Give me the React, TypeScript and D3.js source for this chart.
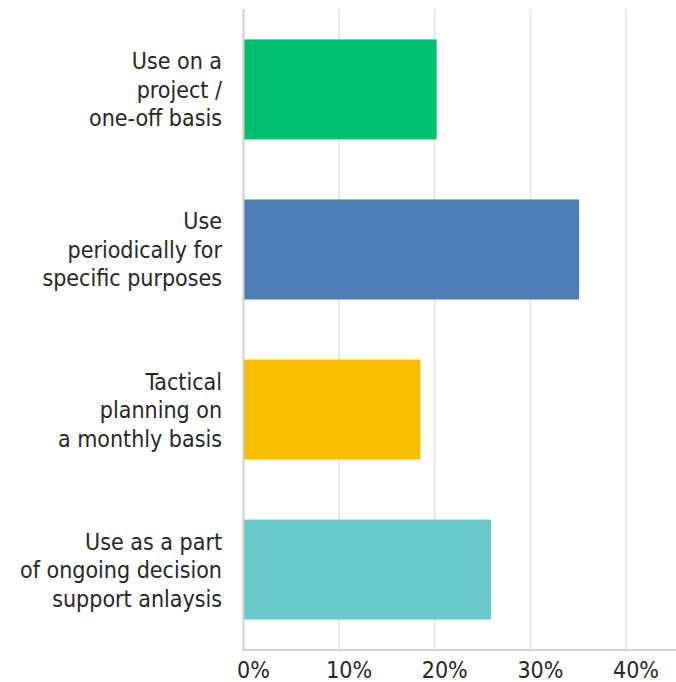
import React from "react";
import * as d3 from "d3";

const categories: string[][] = [
  ["Use on a", "project /", "one-off basis"],
  ["Use", "periodically for", "specific purposes"],
  ["Tactical", "planning on", "a monthly basis"],
  ["Use as a part", "of ongoing decision", "support anlaysis"],
];
const values: number[] = [20.2, 35.1, 18.5, 25.9];
const colors: string[] = ["#00BF6F", "#507CB6", "#F9BE00", "#6BC8CD"];
const ticks: number[] = [0, 10, 20, 30, 40];

const W = 676;
const H = 682;
const left = 243.5;
const right = 626;
const top = 9;
const bottom = 650;

export default function App() {
  const x = d3.scaleLinear().domain([0, 40]).range([left, right]);
  const y = d3
    .scaleBand<number>()
    .domain(d3.range(values.length))
    .range([top, bottom])
    .paddingInner(0.375)
    .paddingOuter(0.19);
  const font = "'DejaVu Sans Condensed', 'DejaVu Sans', Verdana, sans-serif";
  return (
    <svg
      width={W}
      height={H}
      style={{ position: "absolute", left: 0, top: 0, background: "#fff" }}
    >
      {ticks.slice(1).map((t) => (
        <line
          key={t}
          x1={x(t)}
          x2={x(t)}
          y1={top}
          y2={bottom}
          stroke="#e8e8e8"
          strokeWidth={2}
        />
      ))}
      {values.map((v, i) => (
        <rect
          key={i}
          x={x(0)}
          y={y(i)}
          width={x(v) - x(0)}
          height={y.bandwidth()}
          fill={colors[i]}
        />
      ))}
      <line x1={left} x2={left} y1={top} y2={bottom} stroke="#cfcfcf" strokeWidth={2} />
      <line x1={left - 1} x2={W} y1={bottom} y2={bottom} stroke="#cfcfcf" strokeWidth={2} />
      {categories.map((lines, i) => {
        const cy = (y(i) as number) + y.bandwidth() / 2;
        return (
          <text
            key={i}
            x={222}
            textAnchor="end"
            fontFamily={font}
            fontStretch="condensed"
            fontSize={23}
            fill="#262626"
          >
            {lines.map((l, j) => (
              <tspan key={j} x={222} y={cy + (j - 1) * 28.5 + 8.5}>
                {l}
              </tspan>
            ))}
          </text>
        );
      })}
      {ticks.map((t) => (
        <text
          key={t}
          x={x(t) + 10}
          y={678}
          textAnchor="middle"
          fontFamily={font}
          fontStretch="condensed"
          fontSize={23}
          fill="#262626"
        >
          {t}%
        </text>
      ))}
    </svg>
  );
}
